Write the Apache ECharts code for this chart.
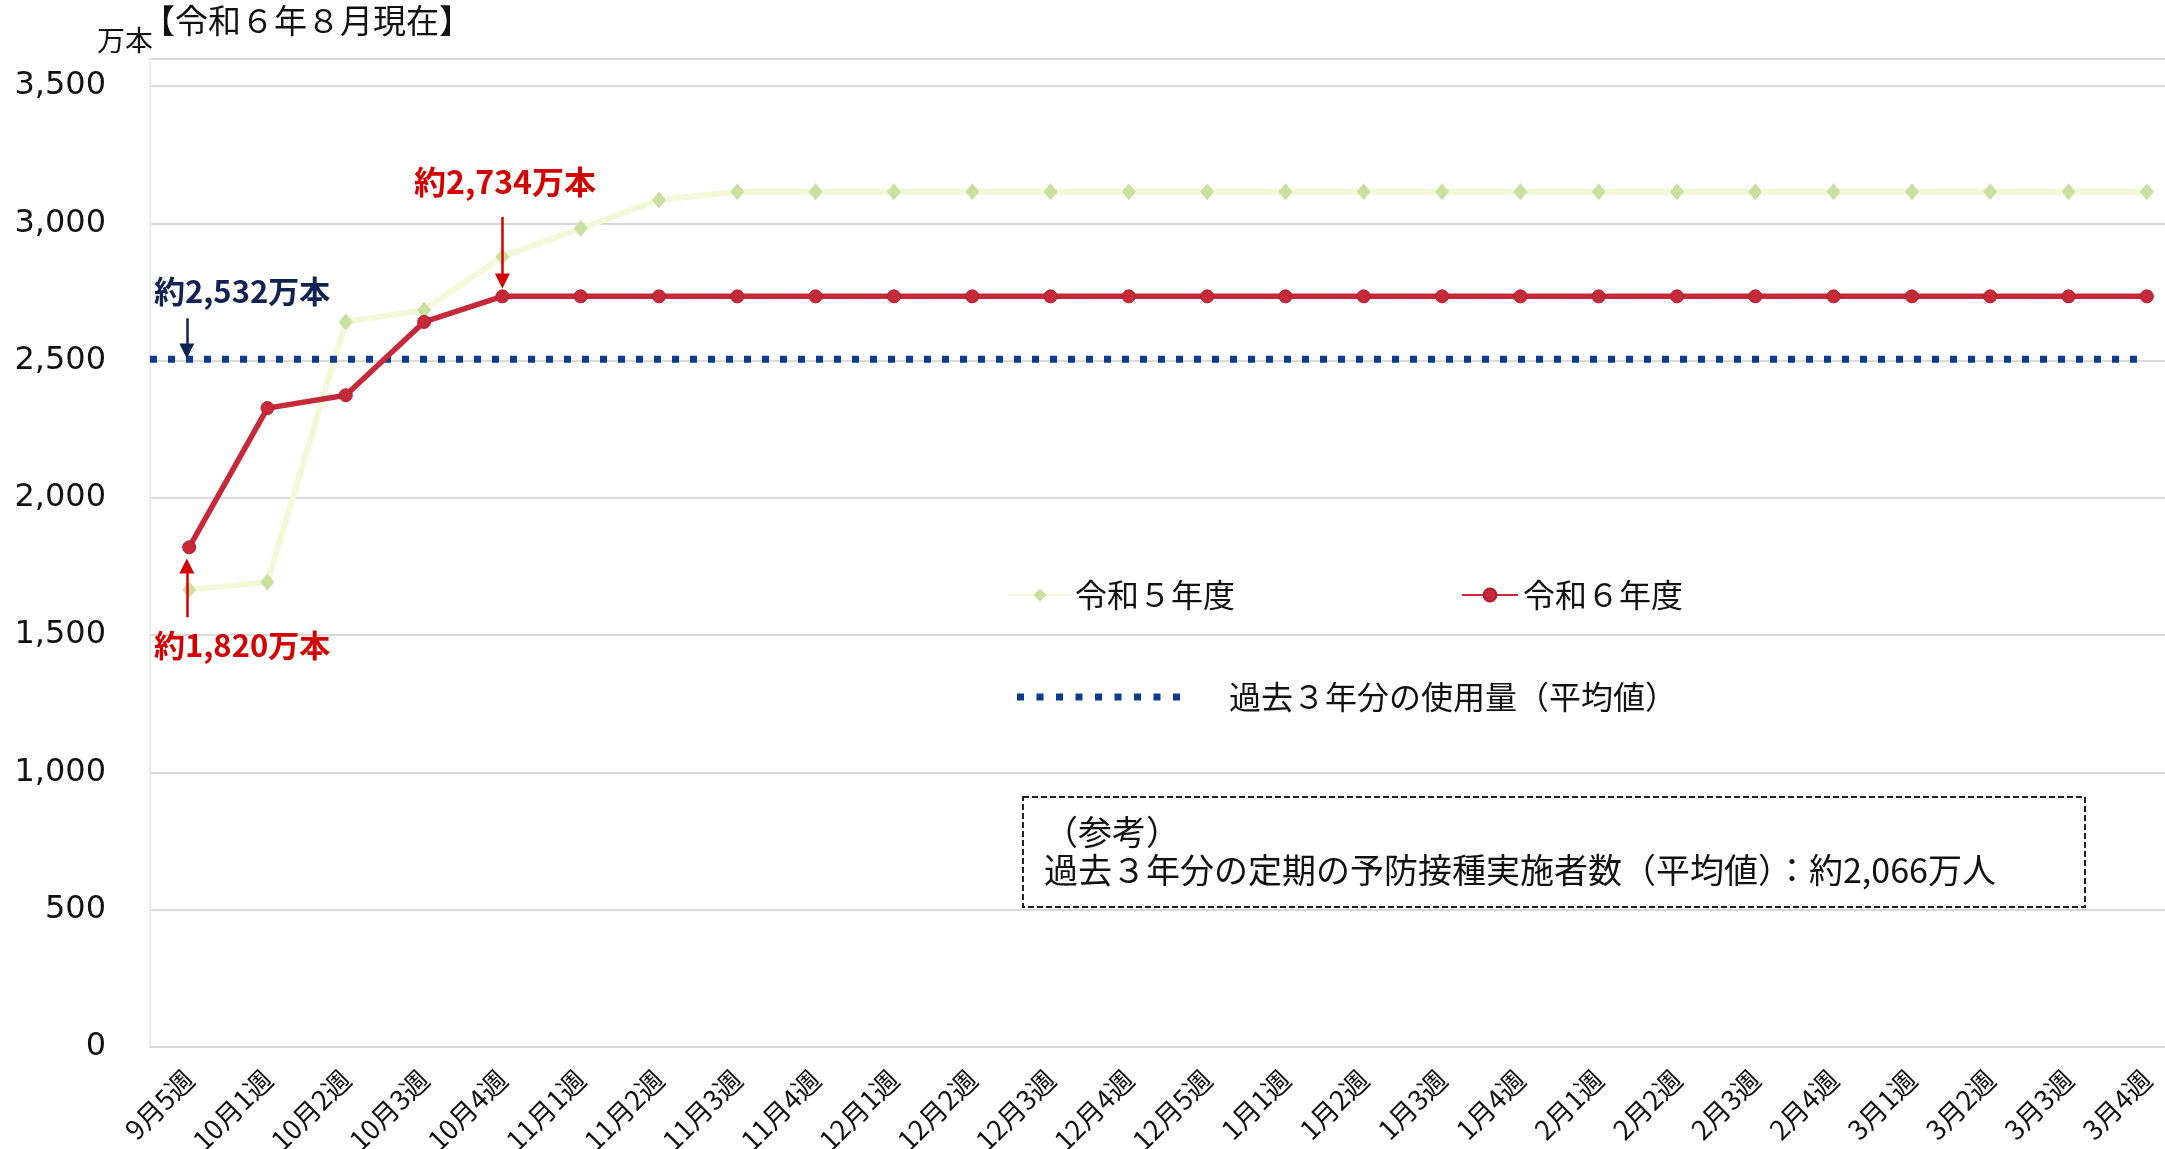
<!DOCTYPE html>
<html><head><meta charset="utf-8">
<script src="https://cdn.jsdelivr.net/npm/echarts@6/dist/echarts.min.js"></script>
<style>html,body{margin:0;padding:0;background:#fff}#c{width:2165px;height:1149px}</style>
</head><body><div id="c"></div>
<script>
const categories = ['9月5週','10月1週','10月2週','10月3週','10月4週','11月1週','11月2週','11月3週','11月4週','12月1週','12月2週','12月3週','12月4週','12月5週','1月1週','1月2週','1月3週','1月4週','2月1週','2月2週','2月3週','2月4週','3月1週','3月2週','3月3週','3月4週'];
const r5Values = [1665,1694,2641,2684,2878,2982,3085,3115,3115,3115,3115,3115,3115,3115,3115,3115,3115,3115,3115,3115,3115,3115,3115,3115,3115,3115];
const r6Values = [1820,2327,2374,2641,2734,2734,2734,2734,2734,2734,2734,2734,2734,2734,2734,2734,2734,2734,2734,2734,2734,2734,2734,2734,2734,2734];
const avgValue = 2505;
const yTicks = [0,500,1000,1500,2000,2500,3000,3500];
const seriesNames = ['令和５年度','令和６年度','過去３年分の使用量（平均値）'];

const CJK = '"Noto Sans CJK JP", sans-serif';
const chart = echarts.init(document.getElementById('c'));
const fmt = v => yTicks.indexOf(v) >= 0 ? v.toLocaleString('en-US') : '';

let sq = '';
for (let i = 0; i < 9; i++) sq += 'M' + (i * 19.5) + ' 0h7v7h-7z';
const dotIcon = 'path://' + sq;

chart.setOption({
  animation: false,
  backgroundColor: '#fff',
  grid: { left: 150, top: 58.6, width: 2036, bottom: 102, containLabel: false, outerBoundsMode: 'none' },
  xAxis: [
    { type: 'category', data: categories, boundaryGap: true,
      axisLine: { show: true, lineStyle: { color: '#d6d6d6', width: 2 } },
      axisTick: { show: false },
      axisLabel: { interval: 0, rotate: 45, margin: 28, fontSize: 27, color: '#111', fontFamily: CJK } },
    { type: 'value', min: -0.5, max: 25.5, show: false }
  ],
  yAxis: { type: 'value', min: 0, max: 3600, interval: 500,
    axisLine: { show: true, onZero: false, lineStyle: { color: '#ececec', width: 2 } },
    axisTick: { show: false },
    splitLine: { lineStyle: { color: '#dadada', width: 2 } },
    axisLabel: { formatter: fmt, fontSize: 32, color: '#111', margin: 44, fontFamily: '"DejaVu Sans", sans-serif' } },
  legend: [
    { data: [seriesNames[0]], left: 1004, top: 574, itemWidth: 60, itemHeight: 16,
      textStyle: { fontSize: 32, color: '#111', fontFamily: CJK } },
    { data: [seriesNames[1]], left: 1456, top: 574, itemWidth: 56, itemHeight: 16,
      textStyle: { fontSize: 32, color: '#111', fontFamily: CJK } },
    { data: [{ name: seriesNames[2], icon: dotIcon, itemStyle: { color: '#0b3d8e' } }], left: 1012, top: 676, itemWidth: 163, itemHeight: 7,
      textStyle: { fontSize: 32, color: '#111', fontFamily: CJK, padding: [0,0,0,44] } }
  ],
  series: [
    { name: seriesNames[0], type: 'line', data: r5Values, symbol: 'diamond', symbolSize: [14, 17],
      lineStyle: { color: '#f3f8d8', width: 6 }, itemStyle: { color: '#c9e0a0' }, z: 2 },
    { name: seriesNames[2], type: 'line', xAxisIndex: 1,
      data: [[-0.5, avgValue], [25, avgValue]], showSymbol: false, symbol: 'none',
      lineStyle: { color: '#0b3d8e', width: 7, type: [7, 11] }, itemStyle: { color: '#0b3d8e' }, z: 3,
      markLine: { silent: true, symbol: ['none', 'triangle'], symbolSize: 15, label: { show: false },
        data: [
          [{ coord: [4, 3023], lineStyle: { color: '#d40000', width: 2.5, type: 'solid' } }, { coord: [4, 2790] }],
          [{ coord: [-0.03, 2654], lineStyle: { color: '#0f2352', width: 2.5, type: 'solid' } }, { coord: [-0.03, 2535] }],
          [{ coord: [-0.03, 1565], lineStyle: { color: '#d40000', width: 2.5, type: 'solid' } }, { coord: [-0.03, 1752] }]
        ] } },
    { name: seriesNames[1], type: 'line', data: r6Values, symbol: 'circle', symbolSize: 13,
      lineStyle: { color: '#c62a3a', width: 5.5 }, itemStyle: { color: '#c62a3a', borderColor: '#b01e30', borderWidth: 1 }, z: 4 }
  ],
  graphic: [
    { type: 'text', z: 100, left: 142, top: 4, style: { text: '【令和６年８月現在】', fontSize: 33, fill: '#111', fontFamily: CJK } },
    { type: 'text', z: 100, left: 97, top: 26, style: { text: '万本', fontSize: 28, fill: '#111', fontFamily: CJK } },
    { type: 'text', z: 100, left: 154, top: 276, style: { text: '約2,532万本', fontSize: 31, fontWeight: 'bold', fill: '#0f2352', fontFamily: CJK } },
    { type: 'text', z: 100, left: 414, top: 166, style: { text: '約2,734万本', fontSize: 32, fontWeight: 'bold', fill: '#d40000', fontFamily: CJK } },
    { type: 'text', z: 100, left: 154, top: 630, style: { text: '約1,820万本', fontSize: 31, fontWeight: 'bold', fill: '#d40000', fontFamily: CJK } },
    { type: 'rect', z: 100, shape: { x: 1023, y: 797, width: 1062, height: 110 },
      style: { fill: 'none', stroke: '#222', lineWidth: 2, lineDash: [6, 3] } },
    { type: 'text', z: 100, left: 1044, top: 815, style: { text: '（参考）', fontSize: 34, fill: '#111', fontFamily: CJK } },
    { type: 'text', z: 100, left: 1044, top: 853, style: { text: '過去３年分の定期の予防接種実施者数（平均値）：約2,066万人', fontSize: 34, fill: '#111', fontFamily: CJK } }
  ]
});
</script></body></html>
